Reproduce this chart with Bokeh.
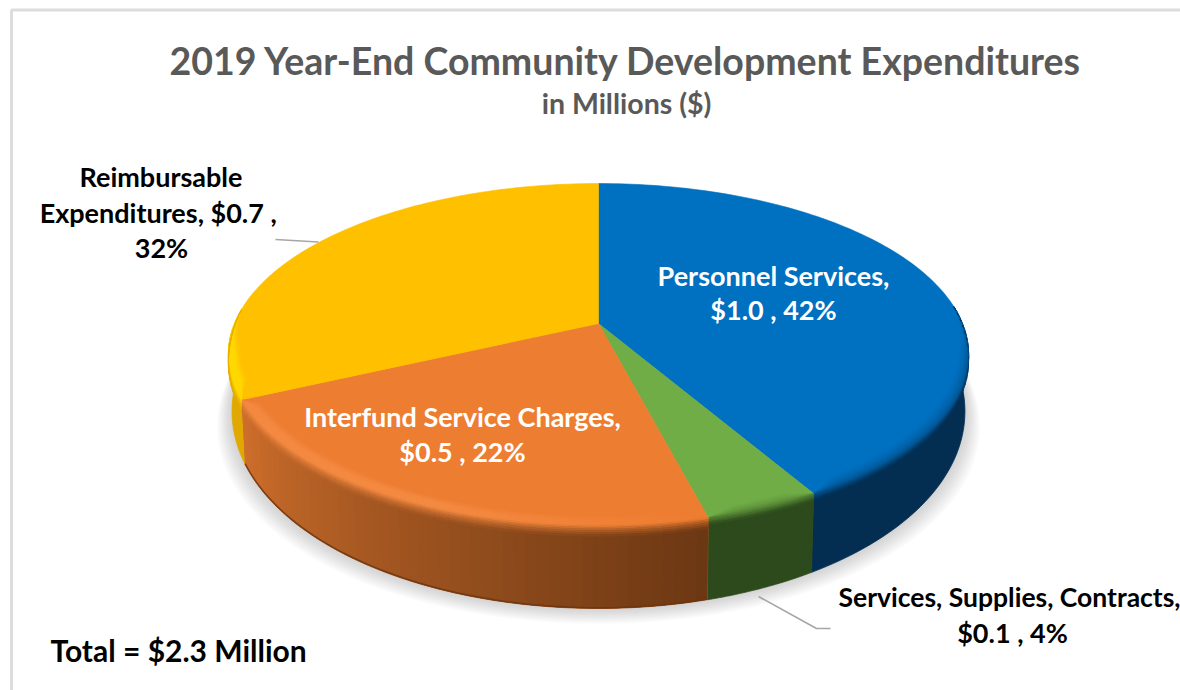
import numpy as np
from bokeh.plotting import figure
from bokeh.models import Range1d
from bokeh.core.properties import value
from bokeh.embed import file_html
from bokeh.resources import INLINE

# ---- data ----
categories = ["Personnel Services", "Services, Supplies, Contracts",
              "Interfund Service Charges", "Reimbursable Expenditures"]
amounts = [1.0, 0.1, 0.5, 0.7]
percents = [42, 4, 22, 32]                # as labelled
shares = [41.7, 4.3, 22.0, 32.0]          # as read from the slice boundaries
title_text = "2019 Year-End Community Development Expenditures"
subtitle_text = "in Millions ($)"
total_text = "Total = $2.3 Million"

# ---- style ----
face = ["#0070C0", "#70AD47", "#ED7D31", "#FFC000"]
wall_a = ["#032E52", "#2D4A1C", "#6B3713", "#E0A800"]   # wall colour at slice start
wall_b = ["#032E52", "#2D4A1C", "#CF6F2C", "#E0A800"]   # wall colour at slice end
hilite = [None, None, "#F48A42", "#FFD900"]
FONT = value("Lato")

CX, CY, R, B, C = 598.0, 323.0, 364.0, -106.8, 0.1813


def rgb(h):
    return np.array([int(h[i:i + 2], 16) for i in (1, 3, 5)], float)


def mix(a, b, f):
    v = rgb(a) * (1 - f) + rgb(b) * f
    return "#%02x%02x%02x" % tuple(int(round(x)) for x in v)


def rim(t, drop=0.0, k=1.0):
    s = np.cos(t)
    d = 1 + C * s
    return CX + k * R * np.sin(t) / d, (CY + B * s) / d + drop


def wall_pt(t, f):
    return rim(t, f * (51 - 32 * np.cos(t)), 1 - 0.01 * f)


p = figure(width=1180, height=690, output_backend="svg", toolbar_location=None,
           x_range=Range1d(0, 1180), y_range=Range1d(690, 0), min_border=0,
           x_axis_type=None, y_axis_type=None, background_fill_color="white",
           border_fill_color="white", outline_line_color=None, tools="")
p.grid.visible = False

# frame of the picture
p.line([11, 11, 1180], [690, 9.5, 9.5], line_color="#DDDDDD", line_width=3)

# slice limits
fr = np.cumsum([0] + shares) / float(sum(shares))
ang = fr * 2 * np.pi

# soft shadow
tt = np.linspace(0, 2 * np.pi, 181)
for i in range(1, 11):
    f = i / 10.0
    sx, sy = wall_pt(tt, 1.0)
    sx = CX + (sx - CX) * (1 + 0.045 * (1 - f))
    sy = sy + 17 * (1 - f)
    p.patch(list(sx), list(sy), fill_color="#707070", fill_alpha=0.035, line_color=None)

# outer wall: one solid band per slice, then the gradient strips where a slice has one
for n in range(4):
    ts = np.linspace(ang[n], ang[n + 1], 100)
    ts = ts[np.cos(ts) < -0.02]
    if len(ts) < 2:
        continue
    ux, uy = wall_pt(ts, 0)
    lx, ly = wall_pt(ts[::-1], 1)
    c = mix(wall_a[n], wall_b[n], 0.5)
    p.patch(list(ux) + list(lx), list(uy) + list(ly), fill_color=c, line_color=c, line_width=0.8)

quads = []
a0, a1 = ang[2], ang[3]
ts = np.linspace(a0, a1, 54)
for j in range(len(ts) - 1):
    t0, t1 = ts[j], ts[min(j + 2, len(ts) - 1)]   # strips overlap one another
    u = (ts[j] + ts[j + 1]) / 2
    u = (u - a0) / (a1 - a0)
    xa, ya = wall_pt(t0, 0)
    xb, yb = wall_pt(t1, 0)
    xc, yc = wall_pt(t1, 1)
    xd, yd = wall_pt(t0, 1)
    quads.append(([xa, xb, xc, xd], [ya, yb, yc, yd], mix(wall_a[2], wall_b[2], u)))
p.patches([q[0] for q in quads], [q[1] for q in quads], fill_color=[q[2] for q in quads], line_color=None)

# dark lower lip of the orange wall
ts = np.linspace(ang[2], ang[3], 60)
lx, ly = wall_pt(ts, 1.0)
p.line(list(lx), list(ly - 0.8), line_color="#6B3510", line_width=1.5, line_alpha=0.8)

# top face
for n in range(4):
    ts = np.linspace(ang[n], ang[n + 1], 120)
    ex, ey = rim(ts)
    p.patch([CX] + list(ex), [CY] + list(ey), fill_color=face[n], line_color=face[n], line_width=0.6)

# bevel along the front edge
bx, by, bc = [], [], []
for n in range(4):
    a0, a1 = ang[n], ang[n + 1]
    ts = np.linspace(a0, a1, max(3, int((a1 - a0) / np.radians(2)) + 1))
    for j in range(len(ts) - 1):
        t0, t1 = ts[j], ts[j + 1]
        tm = (t0 + t1) / 2
        s = np.cos(tm)
        if s > 0.1:
            continue
        u = (tm - a0) / (a1 - a0)
        wc = mix(wall_a[n], wall_b[n], u)
        if hilite[n]:
            strength = min(1.0, max(0.0, u * 2.2)) if n == 2 else 1.0
            hc = mix(face[n], hilite[n], strength)
            stops = [(-10, face[n]), (-5, hc), (0, hc), (5, mix(hc, wc, 0.55)), (11, wc)]
        else:
            stops = [(-8, face[n]), (-3, mix(face[n], wc, 0.18)), (2, mix(face[n], wc, 0.55)), (7, wc)]
        w = min(1.0, (0.1 - s) / 0.3)

        # the inner part of the bevel closes up where two slices meet
        def taper(t):
            return float(np.clip(min(t - a0, a1 - t) / np.radians(4), 0, 1))

        def inner(d, t):
            return d * taper(t) if d < 0 else d

        for a, b in zip(stops[:-1], stops[1:]):
            for q in range(3):
                d0 = a[0] + (b[0] - a[0]) * q / 3.0
                d1 = a[0] + (b[0] - a[0]) * (q + 1) / 3.0
                col = mix(a[1], b[1], (q + 0.5) / 3.0)
                pts = []
                for tq, dq in ((t0, d0), (t1, d0), (t1, d1), (t0, d1)):
                    dd = inner(dq, tq)
                    pts.append(rim(tq, dd * w, 1 + min(dd, 0) * 0.003 * w))
                bx.append([pt[0] for pt in pts])
                by.append([pt[1] for pt in pts])
                bc.append(col)
p.patches(bx, by, fill_color=bc, line_color=bc, line_width=0.5)

# leaders
p.line([275, 318], [239, 241.5], line_color="#A6A6A6", line_width=1.6)
p.line([758, 816, 830], [596, 628, 628], line_color="#A6A6A6", line_width=1.6)


def label(x, y, txt, size, color, align="center"):
    p.text([x], [y], text=[txt], text_font=FONT, text_font_style="bold",
           text_font_size=size, text_color=color, text_align=align, text_baseline="middle")


def money(i):
    return "$%.1f , %d%%" % (amounts[i], percents[i])


label(625.5, 60, title_text, "37.5px", "#595959")
label(626, 102, subtitle_text, "28.5px", "#595959")
label(160.5, 175.5, categories[3].split()[0], "27px", "black")
label(161, 211.5, "%s,  $%.1f ," % (categories[3].split()[1], amounts[3]), "27px", "black")
label(161, 246.5, "%d%%" % percents[3], "27px", "black")
label(773, 274.5, categories[0] + ",", "27px", "white")
label(773, 308.5, money(0), "27px", "white")
label(462, 415.5, categories[2] + ",", "27px", "white")
label(462, 450.5, money(2), "27px", "white")
label(838, 596.5, categories[1] + ",", "26.5px", "black", "left")
label(1012, 631.5, money(1), "27px", "black")
label(50, 649, total_text, "30px", "black", "left")

open("out.html", "w").write(file_html(p, INLINE))
